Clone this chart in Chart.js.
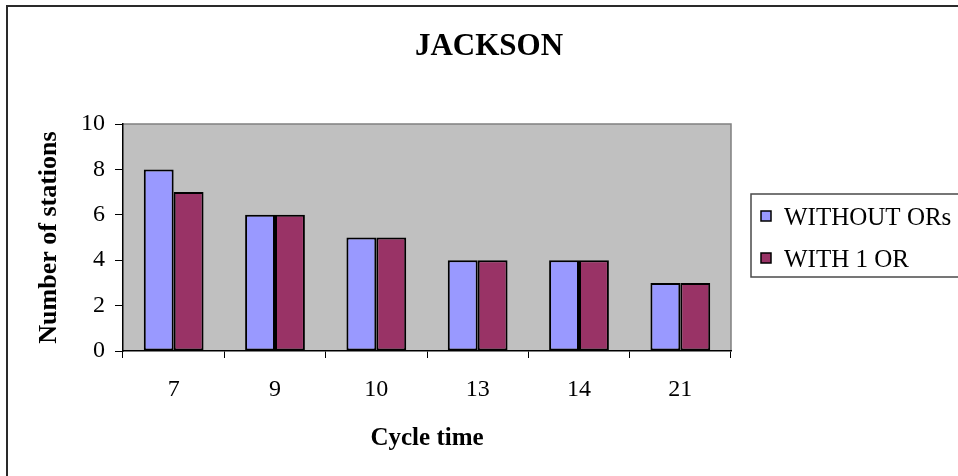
<!DOCTYPE html>
<html>
<head>
<meta charset="utf-8">
<title>JACKSON</title>
<script src="https://cdn.jsdelivr.net/npm/chart.js@4/dist/chart.umd.min.js"></script>
<style>
  html, body { margin: 0; padding: 0; background: #ffffff; }
  #wrap { position: relative; width: 958px; height: 476px; }
</style>
</head>
<body>
<div id="wrap"><canvas id="chart" width="958" height="476"></canvas></div>
<script>
// Cycle times on the x axis and station counts for each configuration
const cycleTimes = ['7', '9', '10', '13', '14', '21'];
const withoutORs = [8, 6, 5, 4, 4, 3];
const withOneOR = [7, 6, 5, 4, 4, 3];
const seriesNames = ['WITHOUT ORs', 'WITH 1 OR'];
const yTicks = [0, 2, 4, 6, 8, 10];
const chartTitle = 'JACKSON';

const SERIF = '"Liberation Serif", "Times New Roman", Times, serif';

// Outer frame, centred title, grey plot background and the boxed legend
const decorations = {
  id: 'decorations',
  beforeDraw(chart) {
    const { ctx, chartArea: a, width, height } = chart;
    ctx.save();
    ctx.fillStyle = '#ffffff';
    ctx.fillRect(0, 0, width, height);
    // frame (open to the right and bottom)
    ctx.strokeStyle = '#2a2a2a';
    ctx.lineWidth = 2;
    ctx.beginPath();
    ctx.moveTo(7, height + 2);
    ctx.lineTo(7, 6);
    ctx.lineTo(width + 2, 6);
    ctx.stroke();
    // title, centred on the whole figure
    ctx.fillStyle = '#000000';
    ctx.font = 'bold 31px ' + SERIF;
    ctx.textAlign = 'center';
    ctx.textBaseline = 'alphabetic';
    ctx.fillText(chartTitle, 489, 55);
    // plot area
    ctx.fillStyle = '#c0c0c0';
    ctx.fillRect(a.left, a.top, a.right - a.left, a.bottom - a.top);
    ctx.strokeStyle = '#808080';
    ctx.lineWidth = 1.5;
    ctx.beginPath();
    ctx.moveTo(a.left, a.top);
    ctx.lineTo(a.right, a.top);
    ctx.lineTo(a.right, a.bottom);
    ctx.stroke();
    ctx.restore();
  },
  afterDraw(chart) {
    const { ctx, chartArea: a } = chart;
    const x0 = a.right + 20, y0 = 194, boxH = 83;
    ctx.save();
    ctx.strokeStyle = '#4a4a4a';
    ctx.lineWidth = 1.5;
    ctx.strokeRect(x0, y0, 240, boxH);
    ctx.font = '25px ' + SERIF;
    ctx.textBaseline = 'alphabetic';
    ctx.textAlign = 'left';
    chart.data.datasets.forEach((ds, i) => {
      const sy = 211 + i * 42;
      ctx.fillStyle = ds.backgroundColor;
      ctx.fillRect(x0 + 10, sy, 10, 10);
      ctx.strokeStyle = '#000000';
      ctx.lineWidth = 1.5;
      ctx.strokeRect(x0 + 10, sy, 10, 10);
      ctx.fillStyle = '#000000';
      ctx.fillText(ds.label, x0 + 33, 225 + i * 42);
    });
    ctx.restore();
  }
};

new Chart(document.getElementById('chart'), {
  type: 'bar',
  data: {
    labels: cycleTimes,
    datasets: [
      {
        label: seriesNames[0],
        data: withoutORs,
        backgroundColor: '#9999ff',
        borderColor: '#000000',
        borderWidth: 2,
        borderSkipped: false
      },
      {
        label: seriesNames[1],
        data: withOneOR,
        backgroundColor: '#993366',
        borderColor: '#000000',
        borderWidth: 2,
        borderSkipped: false
      }
    ]
  },
  options: {
    responsive: false,
    animation: false,
    devicePixelRatio: 1,
    layout: { padding: { left: 0, right: 227, top: 124, bottom: 0 } },
    datasets: {
      bar: { categoryPercentage: 0.59, barPercentage: 1.0 }
    },
    plugins: {
      legend: { display: false },
      tooltip: { enabled: false },
      title: { display: false }
    },
    scales: {
      x: {
        grid: {
          display: true,
          offset: true,
          drawOnChartArea: false,
          drawTicks: true,
          tickLength: 7,
          color: '#000000',
          lineWidth: 1
        },
        border: { display: true, color: '#000000', width: 1.5 },
        ticks: {
          color: '#000000',
          font: { family: SERIF, size: 24 },
          padding: 17,
          maxRotation: 0
        },
        title: {
          display: true,
          text: 'Cycle time',
          color: '#000000',
          font: { family: SERIF, size: 25, weight: 'bold', lineHeight: 1.2 },
          padding: { top: 0, bottom: 22 }
        },
        afterFit(scale) { scale.height = 125; }
      },
      y: {
        min: 0,
        max: 10,
        afterBuildTicks(scale) { scale.ticks = yTicks.map(v => ({ value: v })); },
        grid: {
          display: true,
          drawOnChartArea: false,
          drawTicks: true,
          tickLength: 8,
          color: '#000000',
          lineWidth: 1
        },
        border: { display: true, color: '#000000', width: 1.5 },
        ticks: {
          color: '#000000',
          font: { family: SERIF, size: 24 },
          padding: 10
        },
        title: {
          display: true,
          text: 'Number of stations',
          color: '#000000',
          font: { family: SERIF, size: 26, weight: 'bold', lineHeight: 1.2 },
          padding: { top: 34, bottom: 0 }
        },
        afterFit(scale) { scale.width = 123; }
      }
    }
  },
  plugins: [decorations]
});
</script>
</body>
</html>
